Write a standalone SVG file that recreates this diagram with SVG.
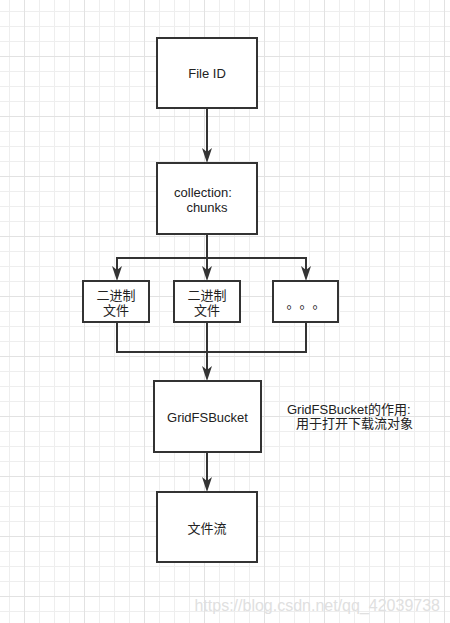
<svg xmlns="http://www.w3.org/2000/svg" width="450" height="623" viewBox="0 0 450 623">
<defs>
<pattern id="grid" patternUnits="userSpaceOnUse" x="24" y="56" width="60" height="60">
<rect width="60" height="60" fill="#ffffff"/>
<rect x="15" y="0" width="1" height="60" fill="#eeeeee"/>
<rect x="30" y="0" width="1" height="60" fill="#eeeeee"/>
<rect x="45" y="0" width="1" height="60" fill="#eeeeee"/>
<rect x="0" y="15" width="60" height="1" fill="#eeeeee"/>
<rect x="0" y="30" width="60" height="1" fill="#eeeeee"/>
<rect x="0" y="45" width="60" height="1" fill="#eeeeee"/>
<rect x="0" y="0" width="1" height="60" fill="#e2e2e2"/>
<rect x="0" y="0" width="60" height="1" fill="#e2e2e2"/>
</pattern>
<marker id="arr" viewBox="-16 -6 17 12" markerWidth="17" markerHeight="12" refX="-10" refY="0" orient="auto" markerUnits="userSpaceOnUse">
<path d="M0,0 L-15,-5 L-11,0 L-15,5 Z" fill="#333333"/>
</marker>
</defs>
<style>
.box{fill:#ffffff;stroke:#333333;stroke-width:2}
.t{font-family:"Liberation Sans","Noto Sans CJK SC",sans-serif;font-size:13px;fill:#222222;text-anchor:middle}
.s{text-anchor:start}
.c{fill:none;stroke:#333333;stroke-width:2}
</style>
<rect width="450" height="623" fill="url(#grid)"/>
<g id="connectors">
<path class="c" d="M207,108 V153" marker-end="url(#arr)"/>
<path class="c" d="M207,234 V271" marker-end="url(#arr)"/>
<path class="c" d="M207,258 H117 V271" marker-end="url(#arr)"/>
<path class="c" d="M207,258 H306 V271" marker-end="url(#arr)"/>
<path class="c" d="M117,322 V352 H306 V322"/>
<path class="c" d="M207,322 V371" marker-end="url(#arr)"/>
<path class="c" d="M207,452 V482" marker-end="url(#arr)"/>
</g>
<g id="fileid">
<rect class="box" x="157" y="38" width="100" height="70"/>
<text class="t" x="207" y="78">File ID</text>
</g>
<g id="collection">
<rect class="box" x="157" y="163" width="100" height="71"/>
<text class="t" x="203" y="197">collection:</text>
<text class="t" x="207" y="212">chunks</text>
</g>
<g id="bin1">
<rect class="box" x="83" y="281" width="66" height="41"/>
<text class="t" x="116" y="300">二进制</text>
<text class="t" x="116" y="315">文件</text>
</g>
<g id="bin2">
<rect class="box" x="174" y="281" width="66" height="41"/>
<text class="t" x="207" y="300">二进制</text>
<text class="t" x="207" y="315">文件</text>
</g>
<g id="more">
<rect class="box" x="273" y="281" width="65" height="41"/>
<text class="t s" x="286.5 299.5 312.5" y="307.5" style="font-family:'Noto Sans CJK SC',sans-serif">。。。</text>
</g>
<g id="gridfsbucket">
<rect class="box" x="154" y="381" width="107" height="71"/>
<text class="t" x="207.5" y="422">GridFSBucket</text>
</g>
<g id="filestream">
<rect class="box" x="157" y="492" width="100" height="70"/>
<text class="t" x="207" y="533">文件流</text>
</g>
<g id="note">
<text class="t s" x="287" y="414">GridFSBucket的作用:</text>
<text class="t s" x="296" y="428">用于打开下载流对象</text>
</g>
<text x="440" y="611" font-family="'Liberation Sans',sans-serif" font-size="16" fill="#e0e0e0" text-anchor="end">https://blog.csdn.net/qq_42039738</text>
</svg>
